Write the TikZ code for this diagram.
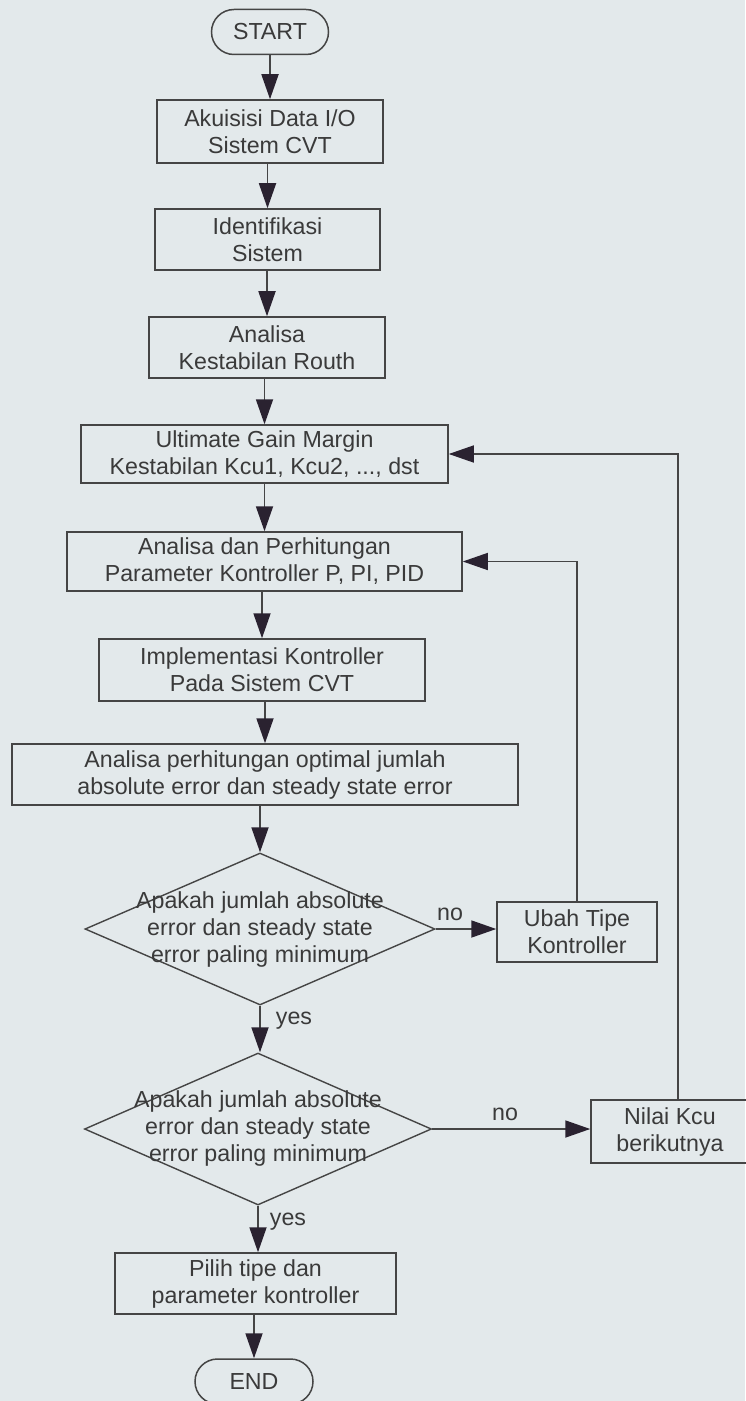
\documentclass[tikz,border=0pt]{standalone}
\usepackage{fontspec}
\setmainfont{Liberation Sans}
\usetikzlibrary{arrows.meta,shapes.geometric,calc}
\definecolor{bg}{HTML}{E3E9EB}
\definecolor{ink}{HTML}{3A3A3A}
\definecolor{linec}{HTML}{454545}
\definecolor{tipc}{HTML}{2A2230}
\begin{document}
\begin{tikzpicture}[x=0.5pt,y=-0.5pt,
  txt/.style={text=ink, align=center, font=\fontsize{11.6}{13.5}\selectfont},
  procbox/.style={txt, draw=linec, line width=0.75pt, rectangle, inner sep=0pt},
  term/.style={procbox, rounded corners=11.25pt, minimum width=58.5pt, minimum height=22.5pt},
  dec/.style={draw=linec, line width=0.7pt, diamond, inner sep=0pt},
  lbl/.style={txt, inner sep=0pt},
  arr/.style={draw=linec, line width=0.9pt, -{Triangle[length=12.5pt,width=8.5pt,color=tipc]}},
  fb/.style={draw=linec, line width=0.7pt, -{Triangle[length=12.5pt,width=8.5pt,color=tipc]}}
]
\useasboundingbox (0,0) rectangle (745,1401);
\fill[bg] (0,0) rectangle (745,1401);

% column nodes
\node[term] (start) at (270,32) {START};
\node[procbox, minimum width=113pt, minimum height=31.5pt] (b1) at (270,131.5) {Akuisisi Data I/O\\Sistem CVT};
\node[procbox, minimum width=112.5pt, minimum height=30.5pt] (b2) at (267.5,239.5) {Identifikasi\\Sistem};
\node[procbox, minimum width=118pt, minimum height=30.5pt] (b3) at (267,347.5) {Analisa\\Kestabilan Routh};
\node[procbox, minimum width=183.5pt, minimum height=29pt] (b4) at (264.5,454) {Ultimate Gain Margin\\Kestabilan Kcu1, Kcu2, ..., dst};
\node[procbox, minimum width=197.5pt, minimum height=29.5pt] (b5) at (264.5,561.5) {Analisa dan Perhitungan\\Parameter Kontroller P, PI, PID};
\node[procbox, minimum width=163pt, minimum height=31pt] (b6) at (262,670) {Implementasi Kontroller\\Pada Sistem CVT};
\node[procbox, minimum width=253pt, minimum height=30.5pt] (b7) at (265,774.5) {Analisa perhitungan optimal jumlah\\absolute error dan steady state error};
\node[dec, minimum width=175pt, minimum height=76pt] (d1) at (260,929) {};
\node[lbl] (d1t) at (260,929) {Apakah jumlah absolute\\error dan steady state\\error paling minimum};
\node[dec, minimum width=173.5pt, minimum height=76pt] (d2) at (258,1129) {};
\node[lbl] (d2t) at (258,1128) {Apakah jumlah absolute\\error dan steady state\\error paling minimum};
\node[procbox, minimum width=140.5pt, minimum height=30.5pt] (pilih) at (255.5,1283.5) {Pilih tipe dan\\parameter kontroller};
\node[term, minimum width=59pt] (end) at (254,1381.5) {END};

% side nodes
\node[procbox, minimum width=80pt, minimum height=30pt] (ubah) at (577,932) {Ubah Tipe\\Kontroller};
\node[procbox, minimum width=79pt, minimum height=31.5pt] (nilai) at (670,1131.5) {Nilai Kcu\\berikutnya};

% labels
\node[lbl] (no1) at (450,914) {no};
\node[lbl] (no2) at (505,1114) {no};
\node[lbl] (yes1) at (294,1021) {yes};
\node[lbl] (yes2) at (288,1222) {yes};

% main flow
\draw[arr] (start.south -| b1.north) -- (b1.north);
\draw[arr] (b1.south -| b2.north) -- (b2.north);
\draw[arr] (b2.south -| b3.north) -- (b3.north);
\draw[arr] (b3.south -| b4.north) -- (b4.north);
\draw[arr] (b4.south -| b5.north) -- (b5.north);
\draw[arr] (b5.south -| b6.north) -- (b6.north);
\draw[arr] (b6.south -| b7.north) -- (b7.north);
\draw[arr] (b7.south -| d1.north) -- (d1.north);
\draw[arr] (d1.south) -- (d1.south |- d2.north);
\draw[arr] (d2.south) -- (d2.south |- pilih.north);
\draw[arr] (pilih.south -| end.north) -- (end.north);

% branches
\draw[arr] (d1.east) -- (d1.east -| ubah.west);
\draw[arr] (d2.east) -- (d2.east -| nilai.west);
\draw[fb] (ubah.north) |- (b5.east);
\draw[fb] ([xshift=4pt]nilai.north) |- (b4.east);
\end{tikzpicture}
\end{document}
